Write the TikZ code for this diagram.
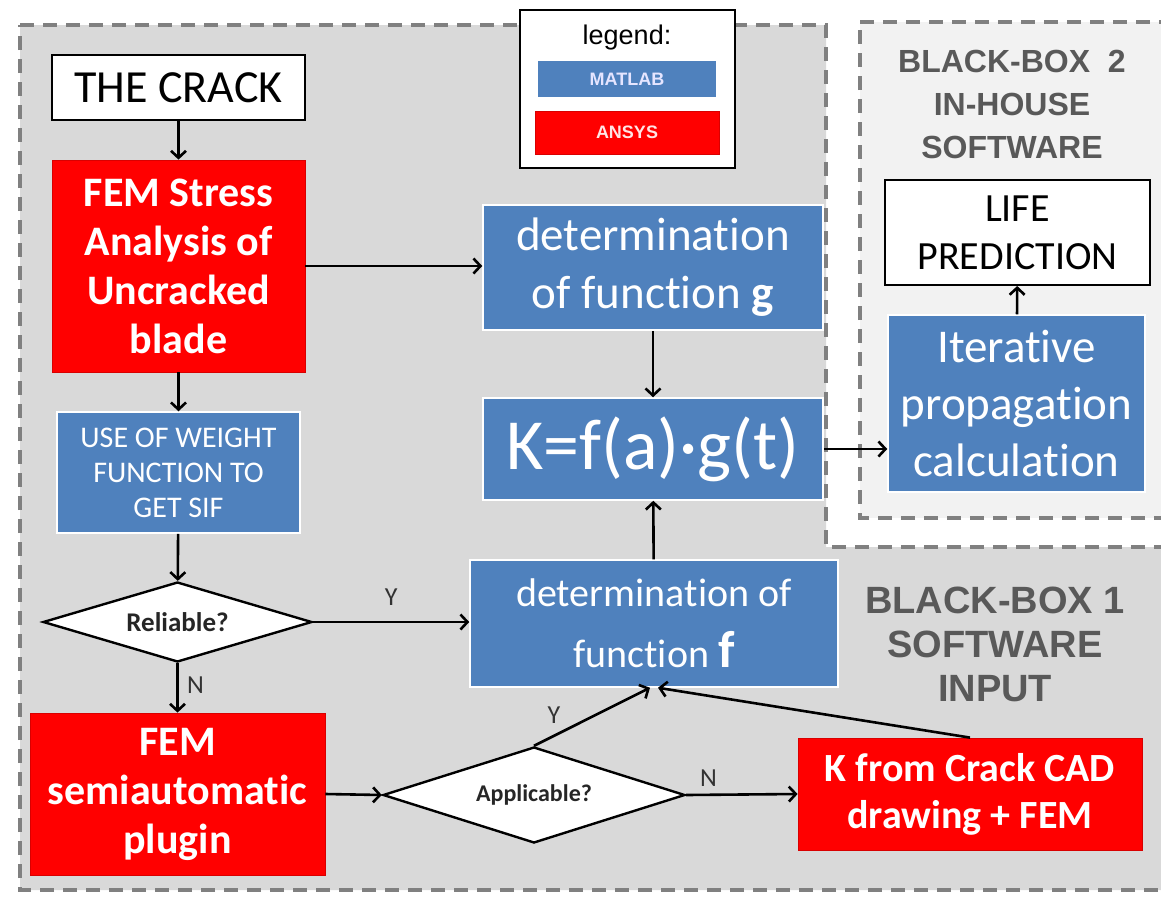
\documentclass[tikz,border=0pt]{standalone}
\usepackage{fontspec}
\setmainfont{Carlito}[Ligatures=NoCommon]
\newfontfamily\arialfont{Liberation Sans}
\usetikzlibrary{shapes.geometric,arrows.meta,positioning}

\definecolor{matlabblue}{HTML}{4F81BD}
\definecolor{ansysred}{HTML}{FF0000}
\definecolor{boxonegray}{HTML}{D9D9D9}
\definecolor{boxtwogray}{HTML}{F2F2F2}
\definecolor{dashgray}{HTML}{808080}
\definecolor{labelgray}{HTML}{595959}
\newcommand{\fsz}[2]{\fontsize{#1}{#2}\selectfont}

\tikzset{
  flow/.style={rectangle, align=center, inner sep=0pt, text=white},
  ansys/.style={flow, fill=ansysred, draw=ansysred!85!black, line width=0.8pt},
  matlab/.style={flow, fill=matlabblue, draw=white, line width=1.5pt},
  plain/.style={flow, fill=white, draw=black, line width=2pt, text=black},
  decision/.style={diamond, shape aspect=3.3, draw=black, line width=2.4pt, fill=white,
    inner sep=0pt, text=black!85},
  link/.style={-{Straight Barb[length=7pt,width=15pt]}, line width=2.6pt},
  yn/.style={font=\fsz{26}{30}, text=black!80},
  boxlabel/.style={align=center, text=labelgray},
  frame/.style={draw=dashgray, line width=4pt, dash pattern=on 14pt off 9pt}
}

\begin{document}
\begin{tikzpicture}[x=1pt,y=-1pt]
  \useasboundingbox (0,0) rectangle (1161,897);
  \clip (0,0) rectangle (1161,897);

  %% Black-box regions
  \draw[frame, fill=boxonegray]
    (20,25) -- (826,25) -- (826,547) -- (1180,547) -- (1180,890) -- (20,890) -- cycle;
  \draw[frame, fill=boxtwogray]
    (860,22) -- (1180,22) -- (1180,518) -- (860,518) -- cycle;
  \node[boxlabel, font=\arialfont\bfseries\fsz{32}{43}] (bbtwo) at (1012,104)
    {BLACK-BOX\ \ 2\\IN-HOUSE\\SOFTWARE};
  \node[boxlabel, font=\arialfont\bfseries\fsz{38}{44}] (bbone) at (995,644)
    {BLACK-BOX 1\\SOFTWARE\\INPUT};

  %% Legend
  \node[plain, minimum width=215, minimum height=158] (legend) at (627.5,89) {};
  \node[font=\arialfont\fsz{27}{30}] (legendtxt) at (627,38) {legend:};
  \node[matlab, minimum width=180, minimum height=38, text=blue!10!white,
    font=\arialfont\bfseries\fsz{18}{20}] (legmatlab) at (627,79) {MATLAB};
  \node[ansys, minimum width=184, minimum height=43, text=white!90!red,
    font=\arialfont\bfseries\fsz{18}{20}] (legansys) at (627,132.5) {ANSYS};

  %% Left column
  \node[plain, minimum width=253, minimum height=65, font=\fsz{46}{50}] (crack)
    at (178.5,87.5) {THE CRACK};
  \node[ansys, minimum width=253, minimum height=212, font=\bfseries\fsz{42}{49}] (fem)
    at (178.5,266) {FEM Stress\\Analysis of\\Uncracked\\blade};
  \node[matlab, minimum width=243, minimum height=121, font=\fsz{30}{35}] (weight)
    at (178.5,472.5) {USE OF WEIGHT\\FUNCTION TO\\GET SIF};
  \node[decision, minimum width=269, minimum height=80, font=\bfseries\fsz{27}{30}]
    (reliable) at (177.5,622) {Reliable?};
  \node[ansys, minimum width=295, minimum height=162, font=\bfseries\fsz{42}{49}] (semi)
    at (177.5,794) {FEM\\semiautomatic\\plugin};
  \node[decision, minimum width=302, minimum height=96, font=\bfseries\fsz{24}{27}]
    (applicable) at (534,795) {Applicable?};
  \node[ansys, minimum width=344, minimum height=112, font=\bfseries\fsz{40}{47}] (kcad)
    at (970,794) {K from Crack CAD\\drawing + FEM};

  %% Middle column
  \node[matlab, minimum width=340, minimum height=125, font=\fsz{47}{58}] (detg)
    at (653,267.5) {determination\\of function \textbf{g}};
  \node[matlab, minimum width=340, minimum height=102, font=\fsz{72}{80}] (kfun)
    at (653,449) {K=f(a)·g(t)};
  \node[matlab, minimum width=368, minimum height=127, font=\fsz{40}{61}] (detf)
    at (654,623.5) {determination of\\function {\bfseries\fsz{52}{61}f}};

  %% Black-box 2
  \node[matlab, minimum width=257, minimum height=177, font=\fsz{47}{57}] (iter)
    at (1016.5,403.5) {Iterative\\propagation\\calculation};
  \node[plain, minimum width=265, minimum height=105, font=\fsz{40}{48}] (life)
    at (1017.5,232.5) {LIFE\\PREDICTION};

  %% Connectors
  \draw[link] (crack) -- (fem);
  \draw[link] (fem.east) -- (fem.east -| detg.west);
  \draw[link] (fem) -- (weight);
  \draw[link] (weight) -- (reliable);
  \draw[link] (reliable.east) -- node[yn, above=12pt] (yrel) {Y} (reliable.east -| detf.west);
  \draw[link] (reliable.south) -- node[yn, right=5pt, pos=0.45] (nrel) {N} (semi.north);
  \draw[link] (semi.east) -- (applicable.west);
  \draw[link] (applicable.north) -- node[yn, above left=0pt and 4pt, pos=0.3] (yapp) {Y}
    ([xshift=-4pt]detf.south);
  \draw[link] (applicable.east) -- node[yn, above=4pt, pos=0.2] (napp) {N} (kcad.west);
  \draw[link] (kcad.north) -- ([xshift=4pt]detf.south);
  \draw[link] (detg) -- (kfun);
  \draw[link] (detf) -- (kfun);
  \draw[link] (kfun.east) -- (kfun.east -| iter.west);
  \draw[link] (iter) -- (life);
\end{tikzpicture}
\end{document}
